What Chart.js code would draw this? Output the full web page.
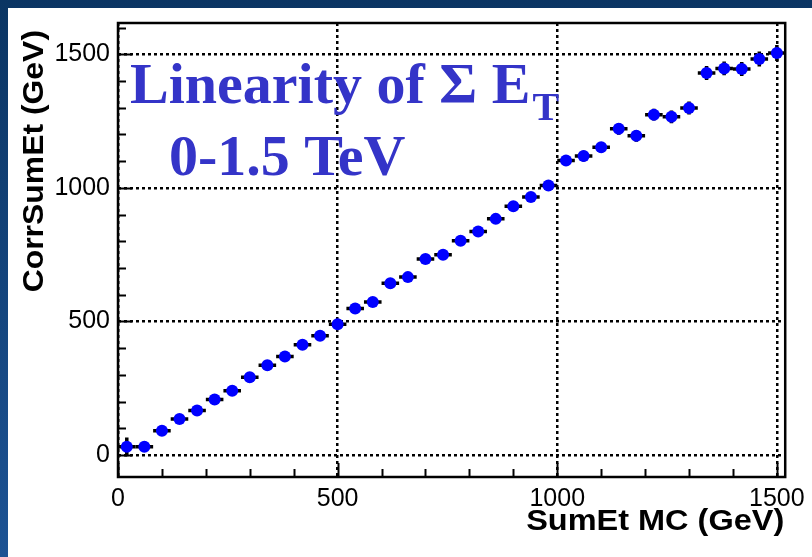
<!DOCTYPE html>
<html>
<head>
<meta charset="utf-8">
<script src="https://cdn.jsdelivr.net/npm/chart.js@4/dist/chart.umd.min.js"></script>
<style>
  html, body { margin: 0; padding: 0; background: #fff; }
</style>
</head>
<body>
<canvas id="c" width="812" height="557"></canvas>
<script>
// bin centres of the SumEt MC profile (40 GeV bins)
const sumEtMC = [20, 60, 100, 140, 180, 220, 260, 300, 340, 380, 420, 460, 500,
  540, 580, 620, 660, 700, 740, 780, 820, 860, 900, 940, 980, 1020, 1060, 1100,
  1140, 1180, 1220, 1260, 1300, 1340, 1380, 1420, 1460, 1500];
const corrSumEt = [31, 31, 91, 135, 167, 208, 241, 291, 336, 369, 413, 447, 490,
  549, 573, 643, 666, 734, 750, 802, 837, 884, 931, 966, 1009, 1102, 1119, 1152,
  1221, 1195, 1274, 1266, 1299, 1430, 1447, 1445, 1482, 1505];
const corrErr = [35, 8, 10, 10, 10, 10, 10, 12, 12, 12, 12, 12, 14,
  14, 14, 14, 14, 16, 16, 16, 16, 16, 18, 18, 18, 20, 20, 20,
  22, 22, 22, 24, 24, 26, 26, 26, 28, 30];
const binHalfWidth = 20;

const xTicks = [0, 500, 1000, 1500];
const yTicks = [0, 500, 1000, 1500];
const xMinorStep = 100;
const yMinorStep = 100;
const xTitle = 'SumEt MC (GeV)';
const yTitle = 'CorrSumEt (GeV)';

// slide background: blue border and white panel
const slideBg = {
  id: 'slideBg',
  beforeDraw(chart) {
    const { ctx, width, height } = chart;
    ctx.save();
    const g = ctx.createLinearGradient(0, 0, 0, height);
    g.addColorStop(0, '#0b3563');
    g.addColorStop(1, '#1d5394');
    ctx.fillStyle = g;
    ctx.fillRect(0, 0, width, height);
    ctx.fillStyle = '#ffffff';
    ctx.fillRect(8, 8, width - 8, height - 8);
    ctx.restore();
  }
};

// horizontal (bin width) and vertical error bars, drawn under the markers
const errorBars = {
  id: 'errorBars',
  beforeDatasetsDraw(chart) {
    const { ctx, scales: { x, y } } = chart;
    ctx.save();
    ctx.strokeStyle = '#000';
    ctx.lineWidth = 3.5;
    sumEtMC.forEach((xv, i) => {
      const yv = corrSumEt[i];
      const py = y.getPixelForValue(yv);
      const px = x.getPixelForValue(xv);
      ctx.beginPath();
      ctx.moveTo(x.getPixelForValue(xv - binHalfWidth), py);
      ctx.lineTo(x.getPixelForValue(xv + binHalfWidth), py);
      ctx.moveTo(px, y.getPixelForValue(yv - corrErr[i]));
      ctx.lineTo(px, y.getPixelForValue(yv + corrErr[i]));
      ctx.stroke();
    });
    ctx.restore();
  }
};

// ROOT style frame with inner tick marks, axis titles and the slide text box
const frame = {
  id: 'frame',
  afterDraw(chart) {
    const { ctx, chartArea: a, scales: { x, y } } = chart;
    ctx.save();
    ctx.strokeStyle = '#000';
    ctx.lineWidth = 2;
    for (let v = 0; v <= x.max; v += xMinorStep) {
      const px = Math.round(x.getPixelForValue(v)) + 0.5;
      const len = v % 500 === 0 ? 14 : 8;
      ctx.beginPath();
      ctx.moveTo(px, a.bottom);
      ctx.lineTo(px, a.bottom - len);
      ctx.stroke();
    }
    for (let v = 0; v <= y.max; v += yMinorStep) {
      const py = Math.round(y.getPixelForValue(v)) + 0.5;
      const len = v % 500 === 0 ? 14 : 8;
      ctx.beginPath();
      ctx.moveTo(a.left, py);
      ctx.lineTo(a.left + len, py);
      ctx.stroke();
    }
    ctx.lineWidth = 2.5;
    ctx.strokeRect(a.left, a.top, a.right - a.left, a.bottom - a.top);

    // axis titles, right aligned at the axis ends (slightly wide like the original)
    ctx.fillStyle = '#000';
    ctx.font = 'bold 29px "Liberation Sans", Arial, sans-serif';
    ctx.textAlign = 'right';
    ctx.textBaseline = 'alphabetic';
    ctx.save();
    ctx.translate(a.right - 1, 530);
    ctx.scale(1.12, 1);
    ctx.fillText(xTitle, 0, 0);
    ctx.restore();
    ctx.save();
    ctx.translate(43, a.top + 7);
    ctx.rotate(-Math.PI / 2);
    ctx.scale(1.1, 1);
    ctx.fillText(yTitle, 0, 0);
    ctx.restore();

    ctx.fillStyle = '#3434c8';
    ctx.textAlign = 'left';
    ctx.font = 'bold 58px "Liberation Serif", "Times New Roman", serif';
    const line1 = 'Linearity of \u03A3 E';
    ctx.fillText(line1, 130, 103);
    const w = ctx.measureText(line1).width;
    ctx.fillText('0-1.5 TeV', 169, 175);
    ctx.font = 'bold 40px "Liberation Serif", "Times New Roman", serif';
    ctx.fillText('T', 130 + w + 2, 120);
    ctx.restore();
  }
};

const tickFont = { family: '"Liberation Sans", Arial, sans-serif', size: 25 };

new Chart(document.getElementById('c'), {
  type: 'scatter',
  data: {
    datasets: [{
      data: sumEtMC.map((xv, i) => ({ x: xv, y: corrSumEt[i] })),
      pointRadius: 6,
      pointBackgroundColor: '#0000ff',
      pointBorderWidth: 0,
      showLine: false
    }]
  },
  options: {
    responsive: false,
    animation: false,
    layout: { padding: { top: 23, right: 26, left: 0, bottom: 0 } },
    plugins: { legend: { display: false }, tooltip: { enabled: false } },
    scales: {
      x: {
        type: 'linear',
        min: 0,
        max: 1519,
        afterBuildTicks: s => { s.ticks = xTicks.map(v => ({ value: v })); },
        afterFit: s => { s.height = 80; },
        ticks: { font: tickFont, color: '#000', padding: 7, maxRotation: 0, autoSkip: false,
          callback: v => String(v) },
        grid: { color: '#000', lineWidth: 2.5, drawTicks: false },
        border: { display: false, dash: [3, 3] }
      },
      y: {
        type: 'linear',
        min: -82,
        max: 1617,
        afterBuildTicks: s => { s.ticks = yTicks.map(v => ({ value: v })); },
        afterFit: s => { s.width = 118; },
        ticks: { font: tickFont, color: '#000', padding: 8, autoSkip: false,
          callback: v => String(v) },
        grid: { color: '#000', lineWidth: 2.5, drawTicks: false },
        border: { display: false, dash: [3, 3] }
      }
    }
  },
  plugins: [slideBg, errorBars, frame]
});
</script>
</body>
</html>
